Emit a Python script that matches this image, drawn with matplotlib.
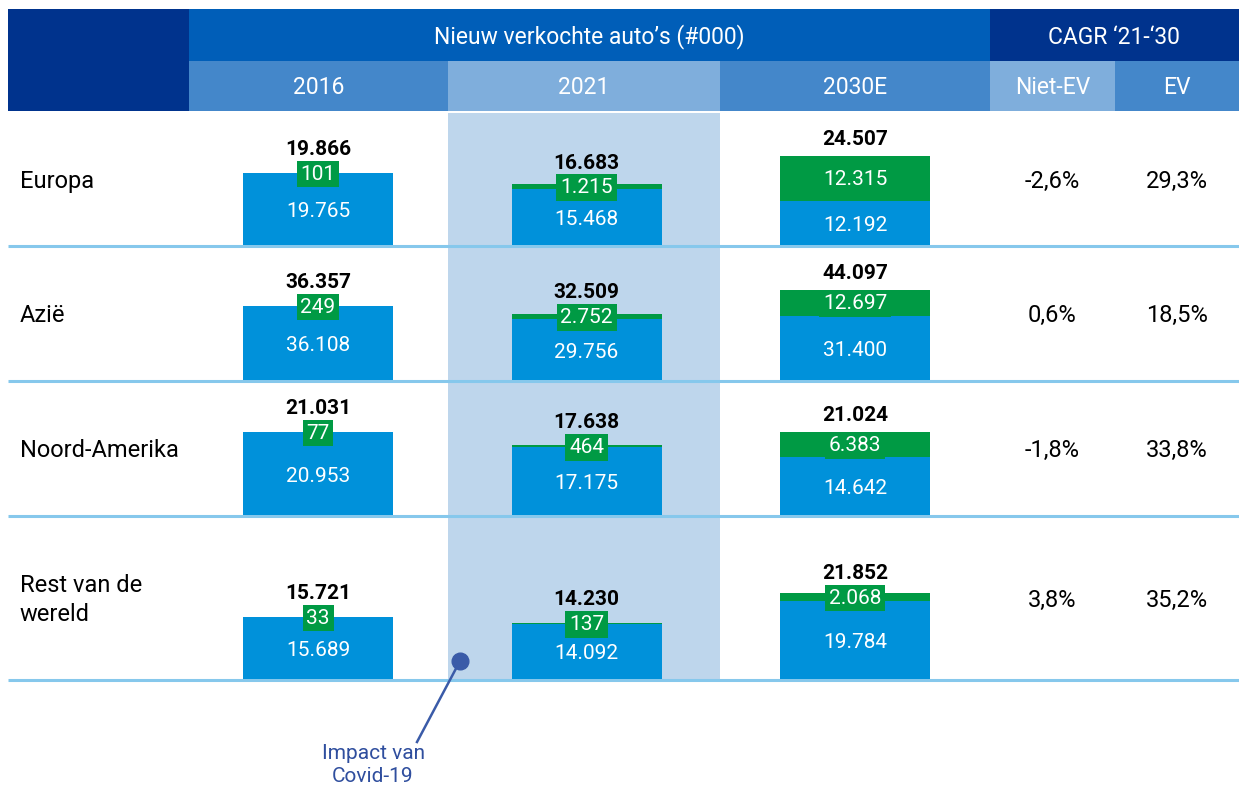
import matplotlib.pyplot as plt
from matplotlib.patches import Rectangle

plt.rcParams['font.family'] = ['Roboto', 'DejaVu Sans']

regions = ['Europa', 'Azië', 'Noord-Amerika', 'Rest van de\nwereld']
years = ['2016', '2021', '2030E']
non_ev = [[19765, 15468, 12192],
          [36108, 29756, 31400],
          [20953, 17175, 14642],
          [15689, 14092, 19784]]
ev = [[101, 1215, 12315],
      [249, 2752, 12697],
      [77, 464, 6383],
      [33, 137, 2068]]
totals = [[19866, 16683, 24507],
          [36357, 32509, 44097],
          [21031, 17638, 21024],
          [15721, 14230, 21852]]
cagr_non_ev = ['-2,6%', '0,6%', '-1,8%', '3,8%']
cagr_ev = ['29,3%', '18,5%', '33,8%', '35,2%']

# kleuren
NAVY = '#00338D'
HEAD = '#005EB8'
MID = '#4487CA'
LIGHT = '#7FAEDC'
SHADE = '#BED6EC'
SEP = '#86C8EC'
BLUE = '#0091DA'
GREEN = '#009A44'
NOTE = '#3A5BA8'

W, H = 1239, 787
row_lines = [246, 381, 516, 680]     # y (px) van scheidingslijnen
row_tops = [113, 246, 381, 516]
row_bar_px = [89, 90, 83, 86]        # hoogte hoogste balk per rij (px)


def fmt(v):
    return f"{v:,}".replace(',', '.')


fig = plt.figure(figsize=(W / 100, H / 100), dpi=100)
bg = fig.add_axes([0, 0, 1, 1])
bg.set_xlim(0, W)
bg.set_ylim(H, 0)
bg.axis('off')

# kopregels
bg.add_patch(Rectangle((8, 9), 181, 102, color=NAVY, lw=0))
bg.add_patch(Rectangle((189, 9), 801, 52, color=HEAD, lw=0))
bg.add_patch(Rectangle((990, 9), 249, 52, color=NAVY, lw=0))
sub_cols = [(189, 448, MID), (448, 720, LIGHT), (720, 990, MID),
            (990, 1115, LIGHT), (1115, 1239, MID)]
sub_labels = years + ['Niet-EV', 'EV']
for (x0, x1, c), lab in zip(sub_cols, sub_labels):
    bg.add_patch(Rectangle((x0, 61), x1 - x0, 50, color=c, lw=0))
    bg.text((x0 + x1) / 2, 88, lab, color='white', fontsize=16.5,
            ha='center', va='center')
bg.text(589, 37, 'Nieuw verkochte auto’s (#000)', color='white',
        fontsize=16.5, ha='center', va='center')
bg.text(1114, 37, 'CAGR ‘21-‘30', color='white', fontsize=16.5,
        ha='center', va='center')

# 2021-kolom arcering
bg.add_patch(Rectangle((448, 113), 272, row_lines[-1] - 113, color=SHADE, lw=0))

for y in row_lines:
    bg.plot([8, W], [y, y], color=SEP, lw=2.2, solid_capstyle='butt')

# balken per rij
x_left, x_right = 189, 990
c0, c2 = 318, 855
px_per_x = (c2 - c0) / 2
bar_w = 150 / px_per_x
axes_h = 125

for r in range(len(regions)):
    base = row_lines[r] - 1
    ax = fig.add_axes([x_left / W, (H - base) / H,
                       (x_right - x_left) / W, axes_h / H])
    ax.set_facecolor('none')
    ax.axis('off')
    s = row_bar_px[r] / max(totals[r])          # px per eenheid
    ymax = axes_h / s
    ax.set_xlim(-(c0 - x_left) / px_per_x, 2 + (x_right - c2) / px_per_x)
    ax.set_ylim(0, ymax)
    xs = range(len(years))
    ax.bar(xs, non_ev[r], width=bar_w, color=BLUE, lw=0)
    ax.bar(xs, ev[r], bottom=non_ev[r], width=bar_w, color=GREEN, lw=0)
    nudge = 2.5 / s      # labels iets onder het midden
    for i in xs:
        b, g, t = non_ev[r][i], ev[r][i], totals[r][i]
        ax.text(i, b / 2 - nudge, fmt(b), color='white', fontsize=15,
                ha='center', va='center')
        ax.text(i, b + g / 2 - 1 / s, fmt(g), color='white', fontsize=15,
                ha='center', va='center',
                bbox=dict(boxstyle='square,pad=0.18', fc=GREEN, ec='none'))
        top_px = (b + g) * s
        box_top_px = (b + g / 2) * s + 13
        lab_px = max(top_px + 11, box_top_px + 5)
        ax.text(i, lab_px / s, fmt(t), color='black', fontsize=15,
                ha='center', va='baseline', fontweight='bold', clip_on=False)

    yc = (row_tops[r] + row_lines[r]) / 2 + 2
    bg.text(20, yc, regions[r], fontsize=17, ha='left', va='center',
            linespacing=1.3)
    bg.text(1052, yc, cagr_non_ev[r], fontsize=17, ha='center', va='center')
    bg.text(1177, yc, cagr_ev[r], fontsize=17, ha='center', va='center')

# annotatie Covid-19
bg.plot([460, 417], [661, 742], color=NOTE, lw=1.8)
bg.plot(460, 661, 'o', color=NOTE, ms=12)
bg.text(373, 765, 'Impact van\nCovid-19', color='#2F4E9E', fontsize=15,
        ha='center', va='center', linespacing=1.3)

fig.savefig('out.png', dpi=100)
